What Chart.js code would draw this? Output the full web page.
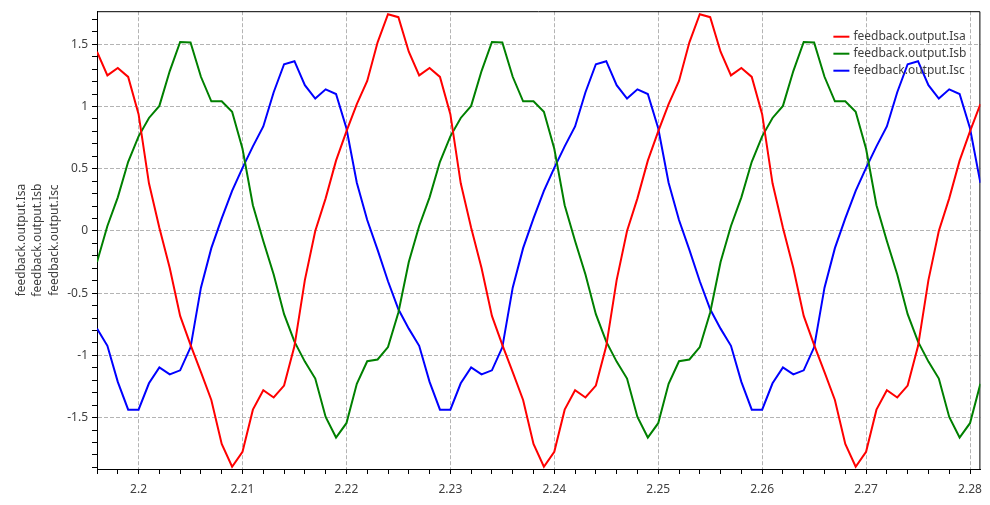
<!DOCTYPE html>
<html>
<head>
<meta charset="utf-8">
<script src="https://cdn.jsdelivr.net/npm/chart.js@4.4.1/dist/chart.umd.min.js"></script>
<style>
  html, body { margin: 0; padding: 0; background: #fff; }
  #c { display: block; }
</style>
</head>
<body>
<canvas id="c" width="990" height="505"></canvas>
<script>
"use strict";

// sample times (s)
const TIME = [
  2.196, 2.197, 2.198, 2.199, 2.200, 2.201, 2.202, 2.203, 2.204, 2.205,
  2.206, 2.207, 2.208, 2.209, 2.210, 2.211, 2.212, 2.213, 2.214, 2.215,
  2.216, 2.217, 2.218, 2.219, 2.220, 2.221, 2.222, 2.223, 2.224, 2.225,
  2.226, 2.227, 2.228, 2.229, 2.230, 2.231, 2.232, 2.233, 2.234, 2.235,
  2.236, 2.237, 2.238, 2.239, 2.240, 2.241, 2.242, 2.243, 2.244, 2.245,
  2.246, 2.247, 2.248, 2.249, 2.250, 2.251, 2.252, 2.253, 2.254, 2.255,
  2.256, 2.257, 2.258, 2.259, 2.260, 2.261, 2.262, 2.263, 2.264, 2.265,
  2.266, 2.267, 2.268, 2.269, 2.270, 2.271, 2.272, 2.273, 2.274, 2.275,
  2.276, 2.277, 2.278, 2.279, 2.280, 2.281,
];

const ISA = [
  1.44, 1.25, 1.31, 1.238, 0.939, 0.383, 0.025, -0.298, -0.683, -0.915,
  -1.135, -1.358, -1.712, -1.895, -1.775, -1.436, -1.28, -1.338, -1.243, -0.925,
  -0.395, 0.0, 0.262, 0.565, 0.8, 1.02, 1.205, 1.516, 1.742, 1.718,
  1.44, 1.25, 1.31, 1.238, 0.939, 0.383, 0.025, -0.298, -0.683, -0.915,
  -1.135, -1.358, -1.712, -1.895, -1.775, -1.436, -1.28, -1.338, -1.243, -0.925,
  -0.395, 0.0, 0.262, 0.565, 0.8, 1.02, 1.205, 1.516, 1.742, 1.718,
  1.44, 1.25, 1.31, 1.238, 0.939, 0.383, 0.025, -0.298, -0.683, -0.915,
  -1.135, -1.358, -1.712, -1.895, -1.775, -1.436, -1.28, -1.338, -1.243, -0.925,
  -0.395, 0.0, 0.262, 0.565, 0.8, 1.02,
];

const ISB = [
  -0.25, 0.04, 0.27, 0.556, 0.76, 0.908, 1.005, 1.285, 1.519, 1.515,
  1.239, 1.042, 1.042, 0.958, 0.66, 0.207, -0.08, -0.35, -0.669, -0.89,
  -1.05, -1.186, -1.495, -1.66, -1.545, -1.228, -1.047, -1.033, -0.933, -0.655,
  -0.25, 0.04, 0.27, 0.556, 0.76, 0.908, 1.005, 1.285, 1.519, 1.515,
  1.239, 1.042, 1.042, 0.958, 0.66, 0.207, -0.08, -0.35, -0.669, -0.89,
  -1.05, -1.186, -1.495, -1.66, -1.545, -1.228, -1.047, -1.033, -0.933, -0.655,
  -0.25, 0.04, 0.27, 0.556, 0.76, 0.908, 1.005, 1.285, 1.519, 1.515,
  1.239, 1.042, 1.042, 0.958, 0.66, 0.207, -0.08, -0.35, -0.669, -0.89,
  -1.05, -1.186, -1.495, -1.66, -1.545, -1.228,
];

const ISC = [
  -0.785, -0.923, -1.213, -1.436, -1.436, -1.224, -1.096, -1.153, -1.12, -0.935,
  -0.456, -0.138, 0.101, 0.322, 0.507, 0.68, 0.84, 1.115, 1.34, 1.364,
  1.172, 1.064, 1.138, 1.1, 0.825, 0.387, 0.088, -0.152, -0.404, -0.63,
  -0.785, -0.923, -1.213, -1.436, -1.436, -1.224, -1.096, -1.153, -1.12, -0.935,
  -0.456, -0.138, 0.101, 0.322, 0.507, 0.68, 0.84, 1.115, 1.34, 1.364,
  1.172, 1.064, 1.138, 1.1, 0.825, 0.387, 0.088, -0.152, -0.404, -0.63,
  -0.785, -0.923, -1.213, -1.436, -1.436, -1.224, -1.096, -1.153, -1.12, -0.935,
  -0.456, -0.138, 0.101, 0.322, 0.507, 0.68, 0.84, 1.115, 1.34, 1.364,
  1.172, 1.064, 1.138, 1.1, 0.825, 0.387,
];

const SERIES = [
  { label: "feedback.output.Isa", values: ISA, color: "#ff0000" },
  { label: "feedback.output.Isb", values: ISB, color: "#008000" },
  { label: "feedback.output.Isc", values: ISC, color: "#0000ff" },
];

const X_TICKS = [2.2, 2.21, 2.22, 2.23, 2.24, 2.25, 2.26, 2.27, 2.28];
const Y_TICKS = [-1.5, -1, -0.5, 0, 0.5, 1, 1.5];
const X_RANGE = [2.196, 2.281];
const Y_RANGE = [-1.913, 1.766];

const FONT = "'Noto Sans', 'Open Sans', sans-serif";
const TEXT = "#404040";
const GRID = "#b4b4b4";

// minor tick positions: every 0.002 s on x, every 0.1 on y
const X_MINOR = [];
for (let k = 1098; k <= 1140; k++) X_MINOR.push(k / 500);
const Y_MINOR = [];
for (let k = -19; k <= 17; k++) Y_MINOR.push(k / 10);

function findMajor(list, v) {
  return list.find(t => Math.abs(t - v) < 1e-9);
}

function gridColor(list) {
  return ctx => (ctx.tick && findMajor(list, ctx.tick.value) !== undefined) ? GRID : "rgba(0,0,0,0)";
}

// black frame on top/right like the reference plot box
const frame = {
  id: "frame",
  beforeDatasetsDraw(chart) {
    const { ctx, chartArea: a } = chart;
    ctx.save();
    ctx.strokeStyle = "#000";
    ctx.lineWidth = 1;
    ctx.beginPath();
    ctx.moveTo(a.left, a.top + 0.5);
    ctx.lineTo(a.right - 0.5, a.top + 0.5);
    ctx.lineTo(a.right - 0.5, a.bottom);
    ctx.stroke();
    ctx.restore();
  },
};

// legend drawn inside the plot, top right
const innerLegend = {
  id: "innerLegend",
  afterDatasetsDraw(chart) {
    const { ctx, chartArea: a } = chart;
    ctx.save();
    ctx.font = "12px " + FONT;
    ctx.textBaseline = "middle";
    ctx.textAlign = "left";
    chart.data.datasets.forEach((ds, i) => {
      const y = a.top + 25.5 + i * 17;
      const x0 = a.right - 147;
      ctx.strokeStyle = ds.borderColor;
      ctx.lineWidth = 2;
      ctx.beginPath();
      ctx.moveTo(x0, y);
      ctx.lineTo(x0 + 16, y);
      ctx.stroke();
      ctx.fillStyle = TEXT;
      ctx.fillText(ds.label, x0 + 20, y);
    });
    ctx.restore();
  },
};

function start() {
  Chart.defaults.font.family = FONT;
  Chart.defaults.font.size = 12;
  Chart.defaults.color = TEXT;

  new Chart(document.getElementById("c"), {
    type: "line",
    data: {
      datasets: SERIES.map(s => ({
        label: s.label,
        data: TIME.map((t, i) => ({ x: t, y: s.values[i] })),
        borderColor: s.color,
        backgroundColor: s.color,
        borderWidth: 2,
        pointRadius: 0,
        tension: 0,
        fill: false,
      })),
    },
    options: {
      responsive: false,
      devicePixelRatio: 1,
      animation: false,
      layout: { padding: { top: 8, right: 8, left: 0, bottom: 0 } },
      plugins: { legend: { display: false }, tooltip: { enabled: false } },
      scales: {
        x: {
          type: "linear",
          min: X_RANGE[0],
          max: X_RANGE[1],
          afterBuildTicks: s => { s.ticks = X_MINOR.map(v => ({ value: v })); },
          afterFit: s => { s.height = 36; },
          ticks: {
            autoSkip: false, maxRotation: 0, minRotation: 0, padding: 8, color: TEXT,
            callback: v => { const m = findMajor(X_TICKS, v); return m === undefined ? "" : String(m); },
          },
          grid: { color: gridColor(X_TICKS), tickColor: "#000", tickLength: 5, lineWidth: 1 },
          border: { color: "#000", width: 1, dash: [4, 2] },
        },
        y: {
          min: Y_RANGE[0],
          max: Y_RANGE[1],
          afterBuildTicks: s => { s.ticks = Y_MINOR.map(v => ({ value: v })); },
          afterFit: s => { s.width = 97; },
          ticks: {
            autoSkip: false, padding: 4, color: TEXT,
            callback: v => { const m = findMajor(Y_TICKS, v); return m === undefined ? "" : String(m); },
          },
          grid: { color: gridColor(Y_TICKS), tickColor: "#000", tickLength: 5, lineWidth: 1 },
          border: { color: "#000", width: 1, dash: [4, 2] },
          title: {
            display: true,
            text: SERIES.map(s => s.label),
            color: TEXT,
            font: { size: 12, lineHeight: 1.39 },
            padding: { top: 13, bottom: 0 },
          },
        },
      },
    },
    plugins: [frame, innerLegend],
  });
}

document.addEventListener("DOMContentLoaded", start);
</script>
</body>
</html>
